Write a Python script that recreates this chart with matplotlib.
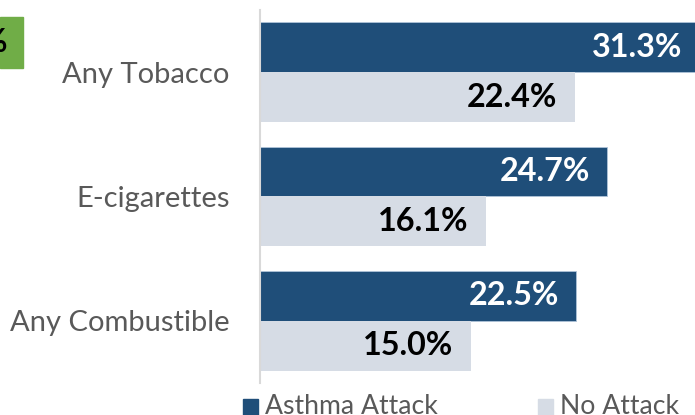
import matplotlib
matplotlib.use("Agg")
import matplotlib.pyplot as plt
from matplotlib.patches import Rectangle

categories = ["Any Tobacco", "E-cigarettes", "Any Combustible"]
asthma = [31.3, 24.7, 22.5]
no_attack = [22.4, 16.1, 15.0]
series_names = ["Asthma Attack", "No Attack"]

DARK = "#1F4E79"
LIGHT = "#D6DCE5"
GRAY = "#595959"
FONT = "Lato"

fig = plt.figure(figsize=(6.95, 4.15), dpi=100)
# axes placed in pixel terms of the 695x415 canvas
ax = fig.add_axes([260/695, 32/415, 435/695, 373/415])

h = 0.4
ypos = list(range(len(categories)))
b1 = ax.barh([y - h/2 for y in ypos], asthma, height=h, color=DARK,
             edgecolor="#AFC3D8", linewidth=0.6)
b2 = ax.barh([y + h/2 for y in ypos], no_attack, height=h, color=LIGHT,
             linewidth=0)

ax.set_xlim(0, 435/14.05)
ax.set_ylim(2.5, -0.5)

for y, v in zip(ypos, asthma):
    ax.annotate("%.1f%%" % v, (v, y - h/2), xytext=(-12.5, 0),
                textcoords="offset points", ha="right", va="center",
                color="white", fontsize=23.3, fontweight="bold",
                family=FONT, annotation_clip=False)
for y, v in zip(ypos, no_attack):
    ax.annotate("%.1f%%" % v, (v, y + h/2), xytext=(-12.5, 0),
                textcoords="offset points", ha="right", va="center",
                color="black", fontsize=23.3, fontweight="bold",
                family=FONT, annotation_clip=False)

ax.set_yticks(ypos)
ax.set_yticklabels(categories, fontsize=21, color=GRAY, family=FONT)
ax.tick_params(axis="y", length=0, pad=22)
ax.set_xticks([])
for s in ["top", "right", "bottom"]:
    ax.spines[s].set_visible(False)
ax.spines["left"].set_color("#D9D9D9")
ax.spines["left"].set_linewidth(1.5)

# legend squares + labels along the bottom (partly cut off, like the source)
fig.patches.append(Rectangle((243/695, -1/415), 15/695, 17/415,
                             transform=fig.transFigure, color=DARK))
fig.text(265/695, -4/415, series_names[0], fontsize=19.2, color=GRAY,
         family=FONT, va="bottom")
fig.patches.append(Rectangle((538/695, -1/415), 15/695, 17/415,
                             transform=fig.transFigure, color=LIGHT))
fig.text(560/695, -4/415, series_names[1], fontsize=19.2, color=GRAY,
         family=FONT, va="bottom")

# green tag at top-left edge
fig.patches.append(Rectangle((0, (415-68)/415), 23/695, 51/415,
                             transform=fig.transFigure, color="#70AD47"))
fig.text(7/695, (415-43)/415, "%", fontsize=23.3, fontweight="bold",
         family=FONT, ha="right", va="center")

plt.savefig("out.png", dpi=100)
